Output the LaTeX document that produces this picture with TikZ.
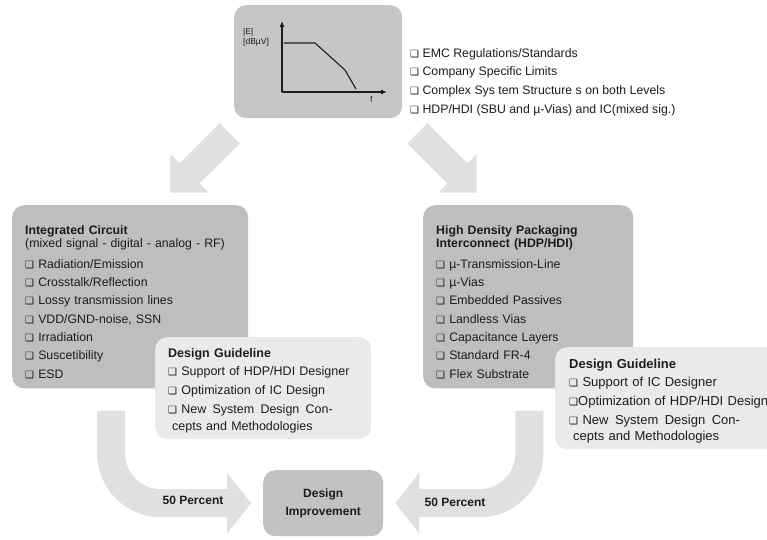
\documentclass[tikz,border=0pt]{standalone}
\usepackage{fontspec}
\setmainfont{Liberation Sans}
\newfontfamily\boxfont{DejaVu Sans}
\usepackage{xcolor}
\definecolor{boxgrey}{RGB}{190,190,190}
\definecolor{topgrey}{RGB}{198,198,198}
\definecolor{guidegrey}{RGB}{234,234,234}
\definecolor{arrgrey}{RGB}{224,224,224}
\definecolor{imprgrey}{RGB}{194,194,194}
\definecolor{ink}{RGB}{28,28,28}
\usepackage{tikz}
\usetikzlibrary{shapes.arrows,arrows.meta,positioning,calc}
\newcommand{\sq}{{\boxfont\fontsize{10}{10}\selectfont ❑}}
\tikzset{
  panel/.style={anchor=north west, rounded corners=12pt, inner sep=0pt},
  mainbox/.style={panel, fill=boxgrey, align=left, inner xsep=13pt, inner ysep=10pt, font=\fontsize{12.3}{18.3}\selectfont},
  guidebox/.style={panel, fill=guidegrey, align=left, inner xsep=13pt, inner ysep=6pt, font=\fontsize{12.5}{18.7}\selectfont},
  lst/.style={anchor=north west, inner sep=0pt, align=left, font=\fontsize{12.3}{18.7}\selectfont},
  diagarr/.style={single arrow, fill=arrgrey, inner sep=14pt, single arrow head extend=13pt, minimum height=84pt},
  bendarr/.style={draw=arrgrey, line width=28pt, rounded corners=50pt, -{Triangle[width=60pt,length=24pt]}},
  pct/.style={font=\bfseries\fontsize{12}{14}\selectfont},
  axis/.style={-{Latex[length=6pt,width=5pt]}, line width=1.1pt, draw=ink},
  axlbl/.style={anchor=north west, inner sep=0pt, align=left, font=\fontsize{8.5}{10}\selectfont}
}

\begin{document}
\begin{tikzpicture}[x=1pt, y=-1pt, every node/.append style={text=ink}]
  \useasboundingbox (0,0) rectangle (767,539);
  \clip (0,0) rectangle (767,539);
  \node[panel, fill=topgrey, minimum width=168pt, minimum height=113pt] (emc) at (234,5) {};
  \draw[axis] (282,92) -- (282,21);
  \draw[axis] (282,92) -- (387,92);
  \draw[draw=ink, line width=1.1pt] (284,43) -- (315,43) -- (345,70) -- (356,89);
  \node[axlbl] (elbl) at (243,28) {|E|\\{}[dBµV]};
  \node[axlbl] (flbl) at (370,96) {f};
  \node[lst] (limits) at (410,48) {\sq\ EMC Regulations/Standards\\
    \sq\ Company Specific Limits\\
    \sq\ Complex Sys tem Structure s on both Levels\\
    \sq\ HDP/HDI (SBU and µ-Vias) and IC(mixed sig.)};
  \node[diagarr, rotate=225] (downl) at (205,158) {};
  \node[diagarr, rotate=-45] (downr) at (442,158) {};
  \node[mainbox, text width=210pt] (ic) at (12,205) {\rule{0pt}{19pt}\textbf{Integrated Circuit}\\[-5.3pt]
    (mixed signal - digital - analog - RF)\\[2.7pt]
    \sq\ Radiation/Emission\\ \sq\ Crosstalk/Reflection\\ \sq\ Lossy transmission lines\\
    \sq\ VDD/GND-noise, SSN\\ \sq\ Irradiation\\ \sq\ Suscetibility\\ \sq\ ESD};
  \node[mainbox, text width=184pt] (hdp) at (423,205) {\rule{0pt}{19pt}\textbf{High Density Packaging}\\[-5.3pt]
    \textbf{Interconnect (HDP/HDI)}\\[2.7pt]
    \sq\ µ-Transmission-Line\\ \sq\ µ-Vias\\ \sq\ Embedded Passives\\ \sq\ Landless Vias\\
    \sq\ Capacitance Layers\\ \sq\ Standard FR-4\\ \sq\ Flex Substrate};
  \node[guidebox, text width=190pt] (guidel) at (155,337) {\rule{0pt}{14pt}\textbf{Design Guideline}\\
    \sq\ Support of HDP/HDI Designer\\ \sq\ Optimization of IC Design\\
    \sq\ New\enspace System\enspace Design\enspace Con-\\[-1.5pt] \hspace*{4pt}cepts and Methodologies};
  \node[guidebox, text width=240pt, inner xsep=14pt, font=\fontsize{13}{18.7}\selectfont] (guider) at (555,347) {\rule{0pt}{15pt}\textbf{Design Guideline}\\
    \sq\ Support of IC Designer\\ \sq Optimization of HDP/HDI Design\\
    \sq\ New\enspace System\enspace Design\enspace Con-\\[-2.5pt] \hspace*{4pt}cepts and Methodologies};
  \node[panel, fill=imprgrey, minimum width=120pt, minimum height=66pt, align=center,
    font=\bfseries\fontsize{12}{18}\selectfont] (impr) at (263,470) {Design\\Improvement};
  \draw[bendarr] ([xshift=99pt, yshift=-22pt]ic.south west) |- ([xshift=-12pt]impr.west);
  \draw[bendarr] ([xshift=-104pt, yshift=-22pt]hdp.south east) |- ([xshift=12pt]impr.east);
  \node[pct] (pctl) at (193,500) {50 Percent};
  \node[pct] (pctr) at (455,502) {50 Percent};
\end{tikzpicture}
\end{document}
